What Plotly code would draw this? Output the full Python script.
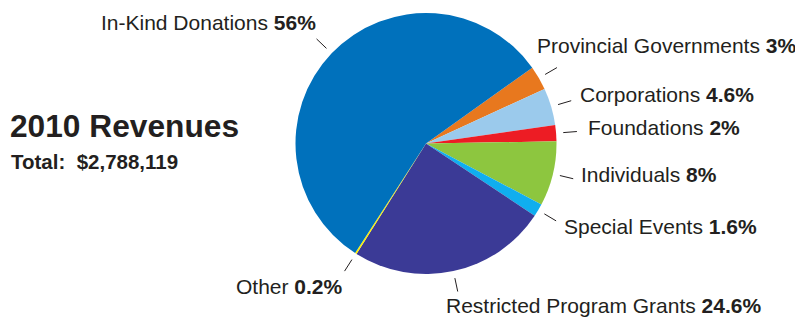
import math
import plotly.graph_objects as go

# ---- data ----
categories = ["Provincial Governments", "Corporations", "Foundations", "Individuals",
              "Special Events", "Restricted Program Grants", "Other", "In-Kind Donations"]
percent_values = [3, 4.6, 2, 8, 1.6, 24.6, 0.2, 56]
percent_labels = ["3%", "4.6%", "2%", "8%", "1.6%", "24.6%", "0.2%", "56%"]
title_text = "2010 Revenues"
total_text = "Total:\u00a0 $2,788,119"

# ---- styling ----
PAGE_MARGIN = 8  # default body margin of the html page
W, H = 803 - PAGE_MARGIN, 318 - PAGE_MARGIN
colors = ["#E8781E", "#9BCAEC", "#ED1C24", "#8DC63F", "#10AEEF", "#3B3A96", "#FFF200", "#0071BC"]
text_color = "#231F20"
font_family = "Liberation Sans, Arial, sans-serif"
cx, cy, r = 426, 143.5, 130.5
rotation = 54.5
# label anchor (left x, middle y) in window pixels, per category
label_pos = {
    "Provincial Governments": (536, 45.5),
    "Corporations": (579, 94.5),
    "Foundations": (587, 127.5),
    "Individuals": (580, 174.5),
    "Special Events": (563, 226),
    "Restricted Program Grants": (445, 305.5),
    "Other": (235, 286.5),
    "In-Kind Donations": (100, 23),
}

def px(x):
    return (x - PAGE_MARGIN) / W

def py(y):
    return 1 - (y - PAGE_MARGIN) / H

fig = go.Figure(go.Pie(
    labels=categories,
    values=percent_values,
    sort=False,
    direction="clockwise",
    rotation=rotation,
    marker=dict(colors=colors, line=dict(width=0)),
    textinfo="none",
    hoverinfo="label+percent",
    showlegend=False,
    domain=dict(x=[px(cx - r), px(cx + r)], y=[py(cy + r), py(cy - r)]),
))

annotations = []
shapes = []
total = sum(percent_values)
start = rotation
for cat, v, lab in zip(categories, percent_values, percent_labels):
    span = v / total * 360
    mid = math.radians(start + span / 2)
    start += span
    # radial leader line
    r0, r1 = r * 1.055, r * 1.16
    x0, y0 = cx + r0 * math.sin(mid), cy - r0 * math.cos(mid)
    x1, y1 = cx + r1 * math.sin(mid), cy - r1 * math.cos(mid)
    shapes.append(dict(type="line", xref="paper", yref="paper",
                       x0=px(x0), y0=py(y0), x1=px(x1), y1=py(y1),
                       line=dict(color=text_color, width=1)))
    lx, ly = label_pos[cat]
    annotations.append(dict(
        x=px(lx), y=py(ly), xref="paper", yref="paper",
        xanchor="left", yanchor="middle", showarrow=False,
        text=f"{cat} <b>{lab}</b>",
        font=dict(size=21, color=text_color, family=font_family),
        borderpad=0,
    ))

annotations.append(dict(
    x=px(9), y=py(126), xref="paper", yref="paper", xanchor="left", yanchor="middle",
    showarrow=False, text=f"<b>{title_text}</b>", borderpad=0,
    font=dict(size=31.7, color=text_color, family=font_family)))
annotations.append(dict(
    x=px(10), y=py(161.7), xref="paper", yref="paper", xanchor="left", yanchor="middle",
    showarrow=False, text=f"<b>{total_text}</b>", borderpad=0,
    font=dict(size=20.5, color=text_color, family=font_family)))

fig.update_layout(
    width=W, height=H,
    margin=dict(l=0, r=0, t=0, b=0),
    paper_bgcolor="white", plot_bgcolor="white",
    annotations=annotations, shapes=shapes,
)

fig.write_html("out.html")
